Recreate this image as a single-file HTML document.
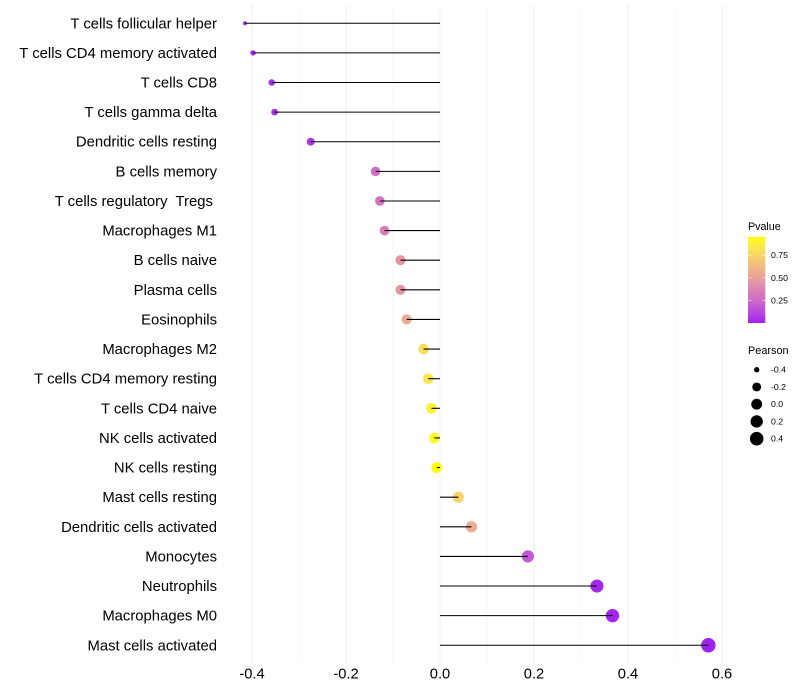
<!DOCTYPE html>
<html>
<head>
<meta charset="utf-8">
<style>
html,body{margin:0;padding:0;background:#fff}
svg{display:block;font-family:"Liberation Sans",sans-serif}
</style>
</head>
<body>
<svg id="chart" width="800" height="700" viewBox="0 0 800 700" xmlns="http://www.w3.org/2000/svg">
<defs><linearGradient id="pgrad" x1="0" y1="1" x2="0" y2="0"></linearGradient></defs>
</svg>
<script>
const categories = ["T cells follicular helper","T cells CD4 memory activated","T cells CD8","T cells gamma delta","Dendritic cells resting","B cells memory","T cells regulatory  Tregs ","Macrophages M1","B cells naive","Plasma cells","Eosinophils","Macrophages M2","T cells CD4 memory resting","T cells CD4 naive","NK cells activated","NK cells resting","Mast cells resting","Dendritic cells activated","Monocytes","Neutrophils","Macrophages M0","Mast cells activated"];
const pearsonValues = [-0.415,-0.398,-0.358,-0.352,-0.275,-0.137,-0.128,-0.118,-0.084,-0.084,-0.071,-0.035,-0.025,-0.018,-0.012,-0.007,0.039,0.067,0.187,0.334,0.367,0.571];
const pValues = [0.02,0.03,0.04,0.04,0.06,0.28,0.31,0.35,0.46,0.46,0.55,0.78,0.83,0.88,0.92,0.95,0.74,0.56,0.18,0.02,0.01,0.0];
const xTicks = [-0.4,-0.2,0.0,0.2,0.4,0.6];
const xMinorTicks = [-0.3,-0.1,0.1,0.3,0.5];
const xTickLabels = ["-0.4","-0.2","0.0","0.2","0.4","0.6"];
const pLegendTicks = [0.25,0.50,0.75];
const sizeLegendValues = [-0.4,-0.2,0.0,0.2,0.4];
const sizeLegendLabels = ["-0.4","-0.2","0.0","0.2","0.4"];

const svg = document.getElementById('chart');
const NS = 'http://www.w3.org/2000/svg';
function make(tag, attrs, parent, text) {
  const el = document.createElementNS(NS, tag);
  for (const k in attrs) el.setAttribute(k, attrs[k]);
  if (text !== undefined) el.textContent = text;
  (parent || svg).appendChild(el);
  return el;
}
const xScale = v => 440 + v * 470;
const yScale = i => 23.26 + i * (622 / (categories.length - 1));
const pMax = Math.max(...pValues), pMin = 0;
const vMin = Math.min(...pearsonValues), vMax = Math.max(...pearsonValues);
const radius = v => (4 + 10.5 * Math.sqrt((v - vMin) / (vMax - vMin))) / 2;

function toLab(r,g,b){
  const f=c=>{c/=255;return c>0.04045?Math.pow((c+0.055)/1.055,2.4):c/12.92};
  const R=f(r),G=f(g),B=f(b);
  const X=(0.4124*R+0.3576*G+0.1805*B)/0.95047,Y=0.2126*R+0.7152*G+0.0722*B,Z=(0.0193*R+0.1192*G+0.9505*B)/1.08883;
  const h=t=>t>0.008856?Math.cbrt(t):7.787*t+16/116;
  return [116*h(Y)-16,500*(h(X)-h(Y)),200*(h(Y)-h(Z))];
}
function fromLab(L,a,b){
  const fy=(L+16)/116,fx=fy+a/500,fz=fy-b/200;
  const g=t=>t*t*t>0.008856?t*t*t:(t-16/116)/7.787;
  const X=g(fx)*0.95047,Y=g(fy),Z=g(fz)*1.08883;
  const lin=[3.2406*X-1.5372*Y-0.4986*Z,-0.9689*X+1.8758*Y+0.0415*Z,0.0557*X-0.2040*Y+1.0570*Z];
  const c=lin.map(v=>{v=Math.max(0,Math.min(1,v));return Math.round(255*(v>0.0031308?1.055*Math.pow(v,1/2.4)-0.055:12.92*v))});
  return 'rgb('+c.join(',')+')';
}
const labLow = toLab(160,32,240), labHigh = toLab(255,255,0);
function colorAt(t){
  t=Math.max(0,Math.min(1,t));
  return fromLab(labLow[0]+(labHigh[0]-labLow[0])*t,labLow[1]+(labHigh[1]-labLow[1])*t,labLow[2]+(labHigh[2]-labLow[2])*t);
}
const pColor = p => colorAt((p - pMin) / (pMax - pMin));

// grid
const gridTop = 5, gridBottom = 663;
xMinorTicks.forEach(v => {
  const l = make('line',{x1:xScale(v),x2:xScale(v),y1:gridTop,y2:gridBottom,stroke:'#f0f0f0','stroke-width':0.55});
  
  
});
xTicks.forEach(v => {
  const l = make('line',{x1:xScale(v),x2:xScale(v),y1:gridTop,y2:gridBottom,stroke:'#f0f0f0','stroke-width':1.07});
  
  
});

// points
categories.forEach((c,i) => {
  const pt = make('circle',{cx:xScale(pearsonValues[i]),cy:yScale(i),r:radius(pearsonValues[i]),fill:pColor(pValues[i])});
  
  
});
// stems
categories.forEach((c,i) => {
  const st = make('line',{x1:xScale(0),x2:xScale(pearsonValues[i]),y1:yScale(i),y2:yScale(i),stroke:'#000','stroke-width':1.07});
  
  
});
// y labels
categories.forEach((c,i) => {
  const t = make('text',{x:217,y:yScale(i)+5,'text-anchor':'end','font-size':14.85,fill:'#000','xml:space':'preserve',style:'white-space:pre'},svg,c);
  
  
});
// x labels
xTicks.forEach((v,i) => {
  const t = make('text',{x:xScale(v),y:678.3,'text-anchor':'middle','font-size':14.7,fill:'#000'},svg,xTickLabels[i]);
  
  
});

// colour legend
const grad = document.getElementById('pgrad');
const barBottom = 323, barTop = 237, pxPerP = 90.4;
for (let k = 0; k <= 20; k++) {
  make('stop',{offset:(k/20),'stop-color':colorAt(k/20)},grad);
}
const pTitle = make('text',{x:748,y:230,'font-size':10.7,fill:'#000'},svg,'Pvalue');


const bar = make('rect',{x:748,y:barTop,width:17.3,height:barBottom-barTop,fill:'url(#pgrad)'});


pLegendTicks.forEach(p => {
  const y = barBottom - p * pxPerP;
  [[748,751.5],[761.8,765.3]].forEach(seg => {
    const m = make('line',{x1:seg[0],x2:seg[1],y1:y,y2:y,stroke:'#fff','stroke-width':0.5});
    
    
  });
  const t = make('text',{x:771,y:y+3,'font-size':8.7,fill:'#000'},svg,p.toFixed(2));
  
  
});

// size legend
const sTitle = make('text',{x:748,y:354,'font-size':10.9,fill:'#000'},svg,'Pearson');


sizeLegendValues.forEach((v,i) => {
  const y = 369.7 + i * 17.25;
  const c = make('circle',{cx:756.7,cy:y,r:radius(v),fill:'#000'});
  
  
  const t = make('text',{x:771,y:y+3,'font-size':8.7,fill:'#000'},svg,sizeLegendLabels[i]);
  
  
});
</script>
</body>
</html>
